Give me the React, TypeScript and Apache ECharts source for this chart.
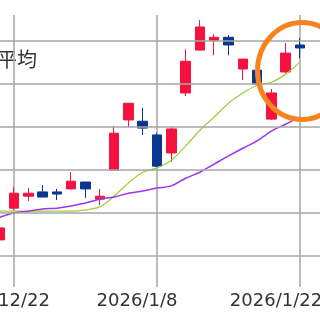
import React, { useEffect, useRef } from "react";
import * as echarts from "echarts";

const dates = [
  "2025/12/18", "2025/12/19", "2025/12/22", "2025/12/23", "2025/12/24", "2025/12/25",
  "2025/12/26", "2025/12/29", "2025/12/30", "2026/1/5", "2026/1/6", "2026/1/7",
  "2026/1/8", "2026/1/9", "2026/1/12", "2026/1/13", "2026/1/14", "2026/1/15",
  "2026/1/16", "2026/1/19", "2026/1/20", "2026/1/21", "2026/1/22", "2026/1/23", "2026/1/26",
];
const shownDates = ["2025/12/22", "2026/1/8", "2026/1/22"];

const opens: (number | string)[] = ["-", 1036, 1110, 1138, 1148, 1148, 1155, 1171, 1131, 1199, 1316, 1313, 1281, 1239, 1379, 1479, 1502, 1509, 1435, 1432, 1318, 1428, 1491, "-", "-"];
const closes: (number | string)[] = ["-", 1064, 1145, 1145, 1136, 1143, 1173, 1155, 1138, 1285, 1355, 1297, 1208, 1295, 1453, 1533, 1509, 1491, 1458, 1400, 1379, 1472, 1484, "-", "-"];
const lows: (number | string)[] = ["-", 1022, 1106, 1127, 1136, 1129, 1155, 1134, 1117, 1197, 1299, 1281, 1206, 1218, 1372, 1479, 1467, 1467, 1409, 1397, 1316, 1425, 1460, "-", "-"];
const highs: (number | string)[] = ["-", 1078, 1159, 1157, 1164, 1155, 1194, 1171, 1155, 1302, 1355, 1344, 1285, 1299, 1481, 1549, 1516, 1514, 1458, 1432, 1388, 1495, 1507, "-", "-"];

const maShort: (number | string)[] = ["-", 1103, 1103, 1103, 1103, 1103, 1103, 1106, 1113, 1138, 1169, 1194, 1204, 1222, 1255, 1292, 1323, 1355, 1379, 1397, 1404, 1423, 1451, "-", "-"];
const maLong: (number | string)[] = ["-", 1089, 1099, 1103, 1108, 1110, 1115, 1122, 1131, 1136, 1145, 1150, 1157, 1162, 1180, 1194, 1213, 1232, 1250, 1267, 1290, 1306, 1323, "-", "-"];

const gridLevels = [1000, 1100, 1200, 1300, 1400, 1500];

const UP = "#f5123f";
const DOWN = "#0a3591";
const GRID = "#a6a6a6";

export default function App() {
  const ref = useRef<HTMLDivElement>(null);
  useEffect(() => {
    if (!ref.current) return;
    const chart = echarts.init(ref.current, null, { renderer: "svg" });
    const candles = dates.map((_, i) =>
      opens[i] === "-" ? "-" : [opens[i], closes[i], lows[i], highs[i]]
    );
    const shiftKey = (v: string) => "s" + shownDates.indexOf(v);
    chart.setOption({
      animation: false,
      grid: { left: 45.4, right: 11.4, top: 15, bottom: 33, containLabel: false },
      xAxis: {
        type: "category",
        data: dates,
        boundaryGap: false,
        axisLine: { show: false },
        axisTick: { show: false },
        axisLabel: {
          interval: (_i: number, v: string) => shownDates.includes(v),
          margin: 3,
          color: "#333",
          fontSize: 18,
          fontFamily: "DejaVu Sans",
          formatter: (v: string) => `{${shiftKey(v)}|${v}}`,
          rich: {
            s0: { padding: [0, 32, 0, 0], fontSize: 18, fontFamily: "DejaVu Sans", color: "#333" },
            s1: { padding: [0, 40, 0, 0], fontSize: 18, fontFamily: "DejaVu Sans", color: "#333" },
            s2: { padding: [0, 48, 0, 0], fontSize: 18, fontFamily: "DejaVu Sans", color: "#333" },
          },
        },
        splitLine: {
          show: true,
          interval: (_i: number, v: string) => shownDates.includes(v),
          lineStyle: { color: GRID, width: 1.5 },
        },
      },
      yAxis: { type: "value", min: 926, max: 1561, show: false, scale: true },
      series: [
        {
          type: "line",
          data: dates.map(() => "-"),
          z: 1,
          silent: true,
          markLine: {
            silent: true,
            symbol: ["none", "none"],
            label: { show: false },
            lineStyle: { color: GRID, width: 1.5, type: "solid" },
            data: gridLevels.map((v) => ({ yAxis: v })),
          },
        },
        {
          type: "candlestick",
          data: candles,
          barWidth: 10,
          z: 2,
          itemStyle: {
            color: UP,
            color0: DOWN,
            borderColor: UP,
            borderColor0: DOWN,
            borderWidth: 1,
          },
        },
        {
          type: "line",
          data: maShort,
          z: 3,
          showSymbol: false,
          smooth: 0.3,
          lineStyle: { color: "#9fcf3a", width: 1.3 },
        },
        {
          type: "line",
          data: maLong,
          z: 3,
          showSymbol: false,
          smooth: 0.3,
          lineStyle: { color: "#9b35f0", width: 1.5 },
        },
      ],
      graphic: [
        {
          type: "text",
          x: 97,
          y: 58,
          style: {
            text: "移動平均",
            font: '20px "Noto Sans CJK JP"',
            fill: "#333",
            align: "right",
            verticalAlign: "middle",
            textAlign: "right",
            textVerticalAlign: "middle",
          },
        },
        {
          type: "ellipse",
          shape: { cx: 362, cy: 71, rx: 44.5, ry: 48.5 },
          style: { fill: "none", stroke: "#f5841f", lineWidth: 5 },
          z: 10,
        },
      ],
    });
    return () => chart.dispose();
  }, []);
  return (
    <div
      ref={ref}
      style={{ position: "fixed", left: -60, top: 0, width: 400, height: 320 }}
    />
  );
}
